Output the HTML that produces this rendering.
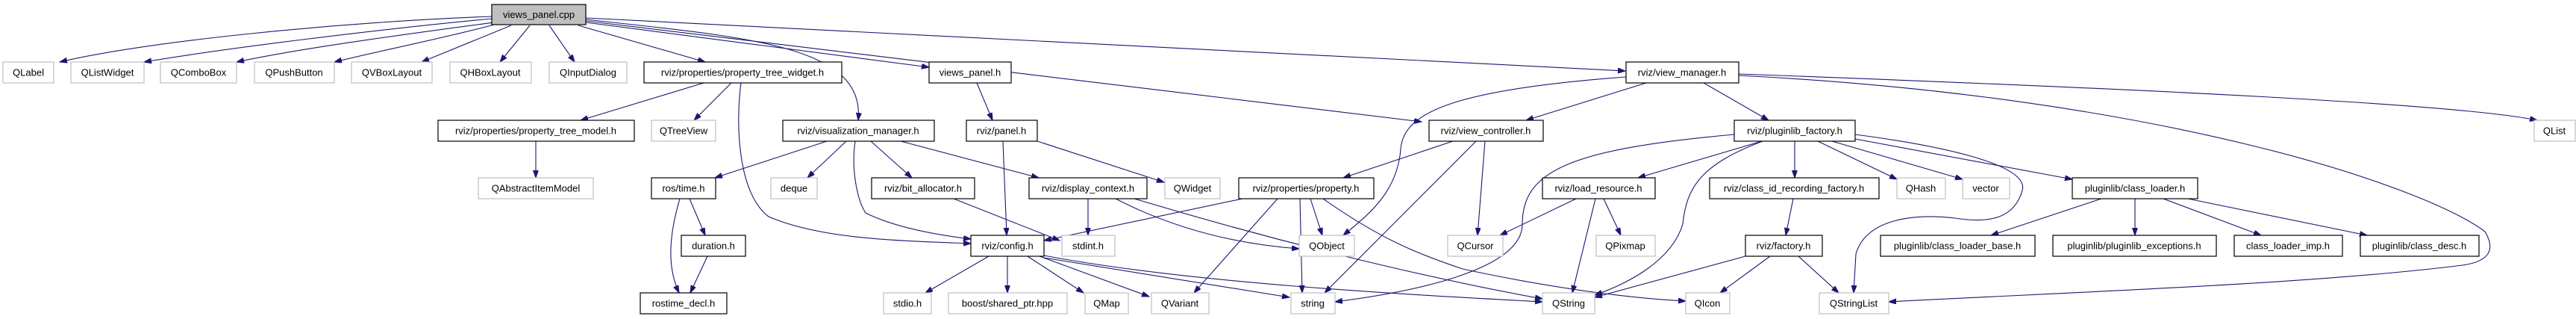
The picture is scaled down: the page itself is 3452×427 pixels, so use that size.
<!DOCTYPE html>
<html><head><meta charset="utf-8"><style>
html,body{margin:0;padding:0;background:#fff;width:3452px;height:427px;overflow:hidden}
svg{display:block}
text{font-family:"Liberation Sans",sans-serif;font-size:13px;fill:#000;text-anchor:middle;dominant-baseline:central}
.n{fill:#fff;stroke:#000;stroke-width:1.2}
.g{fill:#fff;stroke:#bfbfbf;stroke-width:1.2}
path.e{fill:none;stroke:#191970;stroke-width:1.1;marker-end:url(#a)}
</style></head><body>
<svg width="3452" height="427" viewBox="0 0 3452 427">
<defs><marker id="a" markerUnits="userSpaceOnUse" markerWidth="11" markerHeight="8" refX="10" refY="3.5" orient="auto"><path d="M0,0 L10,3.5 L0,7 z" fill="#191970" stroke="#191970"/></marker></defs>
<g>
<path class="e" d="M659,22 C450,30 200,55 80,83"/>
<path class="e" d="M659,25 C500,40 300,65 193,83"/>
<path class="e" d="M662,30 C550,45 400,65 317,83"/>
<path class="e" d="M662,33 C600,50 500,70 448,83"/>
<path class="e" d="M685,34 L565,83"/>
<path class="e" d="M710,34 L670,83"/>
<path class="e" d="M736,34 L770,83"/>
<path class="e" d="M775,34 L945,83"/>
<path class="e" d="M785,30 L1245,90"/>
<path class="e" d="M785,26 C1000,50 1160,60 1150,161"/>
<path class="e" d="M785,28 L1905,163"/>
<path class="e" d="M785,24 L2178,95"/>
<path class="e" d="M1309,111 L1330,161"/>
<path class="e" d="M943,111 L778,161"/>
<path class="e" d="M980,111 L930,161"/>
<path class="e" d="M993,111 C985,170 990,260 1030,290 C1100,320 1200,322 1301,326"/>
<path class="e" d="M718,189 L718,238"/>
<path class="e" d="M1108,189 L958,238"/>
<path class="e" d="M1134,189 L1082,238"/>
<path class="e" d="M1167,189 L1222,238"/>
<path class="e" d="M1207,189 L1392,238"/>
<path class="e" d="M1146,189 C1140,230 1150,270 1160,285 C1200,305 1260,315 1301,320"/>
<path class="e" d="M1344,189 L1349,315"/>
<path class="e" d="M1390,189 L1560,244"/>
<path class="e" d="M924,266 L945,315"/>
<path class="e" d="M911,266 C895,320 895,360 910,392"/>
<path class="e" d="M948,343 L925,392"/>
<path class="e" d="M1278,266 L1420,322"/>
<path class="e" d="M1458,266 L1458,315"/>
<path class="e" d="M1495,266 C1600,320 1700,330 1741,333"/>
<path class="e" d="M1520,266 C1700,320 1900,370 2067,400"/>
<path class="e" d="M1665,266 L1399,322"/>
<path class="e" d="M1712,266 L1600,392"/>
<path class="e" d="M1742,266 L1745,392"/>
<path class="e" d="M1756,266 L1772,315"/>
<path class="e" d="M1773,266 C1850,320 1900,340 1960,360 C2100,390 2200,400 2259,403"/>
<path class="e" d="M1325,343 L1240,392"/>
<path class="e" d="M1350,343 L1350,392"/>
<path class="e" d="M1377,343 L1452,392"/>
<path class="e" d="M1393,343 L1540,397"/>
<path class="e" d="M1399,345 L1728,398"/>
<path class="e" d="M1399,342 C1600,380 1900,395 2067,404"/>
<path class="e" d="M2179,103 C1950,120 1880,150 1877,200 C1872,260 1830,290 1800,315"/>
<path class="e" d="M2206,111 L2045,161"/>
<path class="e" d="M2283,111 L2370,161"/>
<path class="e" d="M2330,99 C2900,120 3300,140 3400,161"/>
<path class="e" d="M2330,101 C2900,130 3250,250 3330,310 C3345,335 3335,350 3300,355 C3100,380 2800,390 2531,404"/>
<path class="e" d="M1947,189 L1800,238"/>
<path class="e" d="M1978,189 L1775,392"/>
<path class="e" d="M1990,189 L1980,315"/>
<path class="e" d="M2324,180 C2100,200 2040,230 2040,300 C2040,360 1900,390 1789,404"/>
<path class="e" d="M2361,189 L2195,238"/>
<path class="e" d="M2362,189 C2280,220 2260,250 2255,300 C2240,350 2180,380 2137,395"/>
<path class="e" d="M2405,189 L2405,238"/>
<path class="e" d="M2436,189 L2542,240"/>
<path class="e" d="M2455,189 L2630,240"/>
<path class="e" d="M2486,186 L2777,240"/>
<path class="e" d="M2486,180 C2600,195 2720,220 2710,255 C2700,290 2670,300 2620,292 C2560,285 2500,295 2487,340 L2484,392"/>
<path class="e" d="M2112,266 L2010,315"/>
<path class="e" d="M2138,266 L2107,392"/>
<path class="e" d="M2149,266 L2172,315"/>
<path class="e" d="M2403,266 L2393,315"/>
<path class="e" d="M2339,343 L2137,398"/>
<path class="e" d="M2372,343 L2305,392"/>
<path class="e" d="M2410,343 L2464,392"/>
<path class="e" d="M2816,266 L2668,315"/>
<path class="e" d="M2861,266 L2861,315"/>
<path class="e" d="M2899,266 L3030,315"/>
<path class="e" d="M2932,266 L3172,315"/>
</g>
<g>
<rect x="659" y="6" width="126" height="27" fill="#bfbfbf" stroke="#000" stroke-width="1.2"/><text x="722" y="19.5">views_panel.cpp</text>

<rect class="g" x="4" y="83" width="68" height="28"/><text x="38" y="97">QLabel</text>
<rect class="g" x="95" y="83" width="98" height="28"/><text x="144" y="97">QListWidget</text>
<rect class="g" x="215" y="83" width="102" height="28"/><text x="266" y="97">QComboBox</text>
<rect class="g" x="341" y="83" width="107" height="28"/><text x="394" y="97">QPushButton</text>
<rect class="g" x="471" y="83" width="108" height="28"/><text x="525" y="97">QVBoxLayout</text>
<rect class="g" x="603" y="83" width="109" height="28"/><text x="657" y="97">QHBoxLayout</text>
<rect class="g" x="736" y="83" width="104" height="28"/><text x="788" y="97">QInputDialog</text>
<rect class="n" x="863" y="83" width="265" height="28"/><text x="995" y="97">rviz/properties/property_tree_widget.h</text>
<rect class="n" x="1245" y="83" width="110" height="28"/><text x="1300" y="97">views_panel.h</text>
<rect class="n" x="2179" y="83" width="151" height="28"/><text x="2254" y="97">rviz/view_manager.h</text>

<rect class="n" x="587" y="161" width="263" height="28"/><text x="718" y="175">rviz/properties/property_tree_model.h</text>
<rect class="g" x="873" y="161" width="86" height="28"/><text x="916" y="175">QTreeView</text>
<rect class="n" x="1049" y="161" width="203" height="28"/><text x="1150" y="175">rviz/visualization_manager.h</text>
<rect class="n" x="1295" y="161" width="95" height="28"/><text x="1342" y="175">rviz/panel.h</text>
<rect class="n" x="1915" y="161" width="153" height="28"/><text x="1991" y="175">rviz/view_controller.h</text>
<rect class="n" x="2324" y="161" width="162" height="28"/><text x="2405" y="175">rviz/pluginlib_factory.h</text>
<rect class="g" x="3396" y="161" width="55" height="28"/><text x="3423" y="175">QList</text>

<rect class="g" x="641" y="238" width="154" height="28"/><text x="718" y="252">QAbstractItemModel</text>
<rect class="n" x="873" y="238" width="86" height="28"/><text x="916" y="252">ros/time.h</text>
<rect class="g" x="1033" y="238" width="62" height="28"/><text x="1064" y="252">deque</text>
<rect class="n" x="1168" y="238" width="138" height="28"/><text x="1237" y="252">rviz/bit_allocator.h</text>
<rect class="n" x="1379" y="238" width="158" height="28"/><text x="1458" y="252">rviz/display_context.h</text>
<rect class="g" x="1561" y="238" width="74" height="28"/><text x="1598" y="252">QWidget</text>
<rect class="n" x="1660" y="238" width="181" height="28"/><text x="1750" y="252">rviz/properties/property.h</text>
<rect class="n" x="2067" y="238" width="151" height="28"/><text x="2142" y="252">rviz/load_resource.h</text>
<rect class="n" x="2291" y="238" width="227" height="28"/><text x="2404" y="252">rviz/class_id_recording_factory.h</text>
<rect class="g" x="2542" y="238" width="65" height="28"/><text x="2574" y="252">QHash</text>
<rect class="g" x="2630" y="238" width="63" height="28"/><text x="2661" y="252">vector</text>
<rect class="n" x="2777" y="238" width="168" height="28"/><text x="2861" y="252">pluginlib/class_loader.h</text>

<rect class="n" x="913" y="315" width="86" height="28"/><text x="956" y="329">duration.h</text>
<rect class="n" x="1301" y="315" width="98" height="28"/><text x="1350" y="329">rviz/config.h</text>
<rect class="g" x="1423" y="315" width="71" height="28"/><text x="1458" y="329">stdint.h</text>
<rect class="g" x="1741" y="315" width="74" height="28"/><text x="1778" y="329">QObject</text>
<rect class="g" x="1940" y="315" width="74" height="28"/><text x="1977" y="329">QCursor</text>
<rect class="g" x="2139" y="315" width="79" height="28"/><text x="2178" y="329">QPixmap</text>
<rect class="n" x="2339" y="315" width="103" height="28"/><text x="2390" y="329">rviz/factory.h</text>
<rect class="n" x="2520" y="315" width="207" height="28"/><text x="2623" y="329">pluginlib/class_loader_base.h</text>
<rect class="n" x="2751" y="315" width="219" height="28"/><text x="2860" y="329">pluginlib/pluginlib_exceptions.h</text>
<rect class="n" x="2994" y="315" width="145" height="28"/><text x="3066" y="329">class_loader_imp.h</text>
<rect class="n" x="3163" y="315" width="159" height="28"/><text x="3242" y="329">pluginlib/class_desc.h</text>

<rect class="n" x="858" y="392" width="116" height="28"/><text x="916" y="406">rostime_decl.h</text>
<rect class="g" x="1184" y="392" width="64" height="28"/><text x="1216" y="406">stdio.h</text>
<rect class="g" x="1271" y="392" width="159" height="28"/><text x="1350" y="406">boost/shared_ptr.hpp</text>
<rect class="g" x="1454" y="392" width="58" height="28"/><text x="1483" y="406">QMap</text>
<rect class="g" x="1543" y="392" width="77" height="28"/><text x="1581" y="406">QVariant</text>
<rect class="g" x="1730" y="392" width="59" height="28"/><text x="1759" y="406">string</text>
<rect class="g" x="2067" y="392" width="70" height="28"/><text x="2102" y="406">QString</text>
<rect class="g" x="2259" y="392" width="59" height="28"/><text x="2288" y="406">QIcon</text>
<rect class="g" x="2438" y="392" width="93" height="28"/><text x="2484" y="406">QStringList</text>
</g>
</svg>
</body></html>
